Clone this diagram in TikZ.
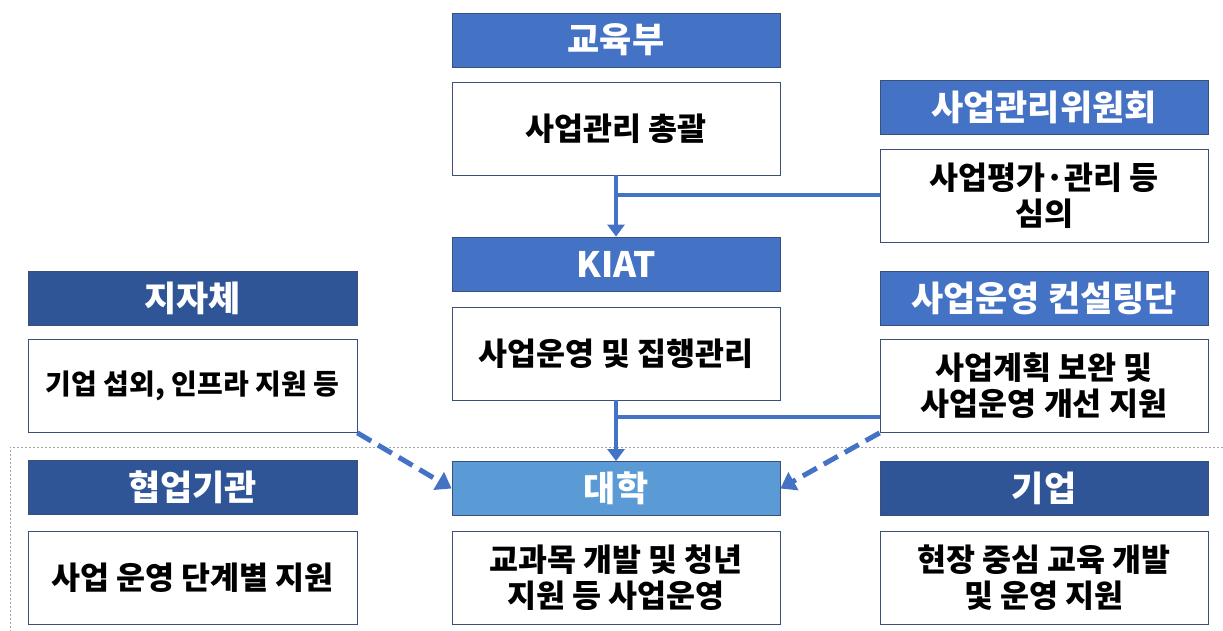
\documentclass[tikz,border=0pt]{standalone}
\usepackage{fontspec}
\setmainfont{Noto Sans CJK KR}
\usetikzlibrary{arrows.meta,calc}
\definecolor{hmid}{HTML}{4472C4}
\definecolor{hdark}{HTML}{2F5597}
\definecolor{hlight}{HTML}{5B9BD5}
\definecolor{bord}{HTML}{3A4F7A}
\begin{document}
\begin{tikzpicture}[x=1pt,y=-1pt,
  hdr/.style={draw=bord,line width=0.8pt,minimum width=328pt,minimum height=54pt,inner sep=0pt,text=white,font=\fontsize{35}{40}\selectfont\bfseries},
  bodybox/.style={draw=bord,line width=0.8pt,fill=white,minimum width=328pt,minimum height=93pt,inner sep=0pt,align=center,font=\fontsize{31.5}{36}\selectfont\bfseries},
  conn/.style={draw=hmid,line width=4pt},
  arr/.style={conn,-{Triangle[length=12pt,width=17pt]}},
  darr/.style={conn,line width=5pt,dash pattern=on 16pt off 8pt,-{Triangle[length=15pt,width=20pt]}},
  sep/.style={draw=gray!70,line width=1pt,dash pattern=on 2pt off 2pt}]
\useasboundingbox (0,0) rectangle (1223,631);
% separator
\draw[sep] (1223,447) -- (10,447) -- (10,631);
% center column
\node[hdr,fill=hmid] (gy) at (616,40) {교육부};
\node[bodybox] (gyb) at (616,128.5) {사업관리 총괄};
\node[hdr,fill=hmid] (ki) at (616,264) {KIAT};
\node[bodybox] (kib) at (616,353.5) {사업운영 및 집행관리};
\node[hdr,fill=hlight] (dh) at (616,488.5) {대학};
\node[bodybox] (dhb) at (616,577.5) {교과목 개발 및 청년\\지원 등 사업운영};
% right column
\node[hdr,fill=hmid] (wh) at (1044,107) {사업관리위원회};
\node[bodybox] (whb) at (1044,195.5) {사업평가·관리 등\\심의};
\node[hdr,fill=hmid] (ct) at (1044,298) {사업운영 컨설팅단};
\node[bodybox] (ctb) at (1044,386) {사업계획 보완 및\\사업운영 개선 지원};
\node[hdr,fill=hdark] (gu) at (1044,488.5) {기업};
\node[bodybox] (gub) at (1044,577.5) {현장 중심 교육 개발\\및 운영 지원};
% left column
\node[hdr,fill=hdark,minimum width=329pt] (jj) at (192.5,298) {지자체};
\node[bodybox,minimum width=329pt,font=\fontsize{28}{34}\selectfont\bfseries] (jjb) at (192.5,386) {기업 섭외, 인프라 지원 등};
\node[hdr,fill=hdark,minimum width=329pt] (hg) at (192.5,487.5) {협업기관};
\node[bodybox,minimum width=329pt] (hgb) at (192.5,577.5) {사업 운영 단계별 지원};
% connectors
\draw[arr] (gyb.south) -- (ki.north);
\draw[conn] (whb.west) -- (whb.west -| gyb.south);
\draw[arr] (kib.south) -- (dh.north);
\path (ctb.south west) ++(0,-16) coordinate (c2);
\draw[conn] (c2) -- (c2 -| kib.south);
\draw[darr] (jjb.south east) -- (dh.west);
\draw[darr] (ctb.south west) -- (dh.east);
\end{tikzpicture}
\end{document}
